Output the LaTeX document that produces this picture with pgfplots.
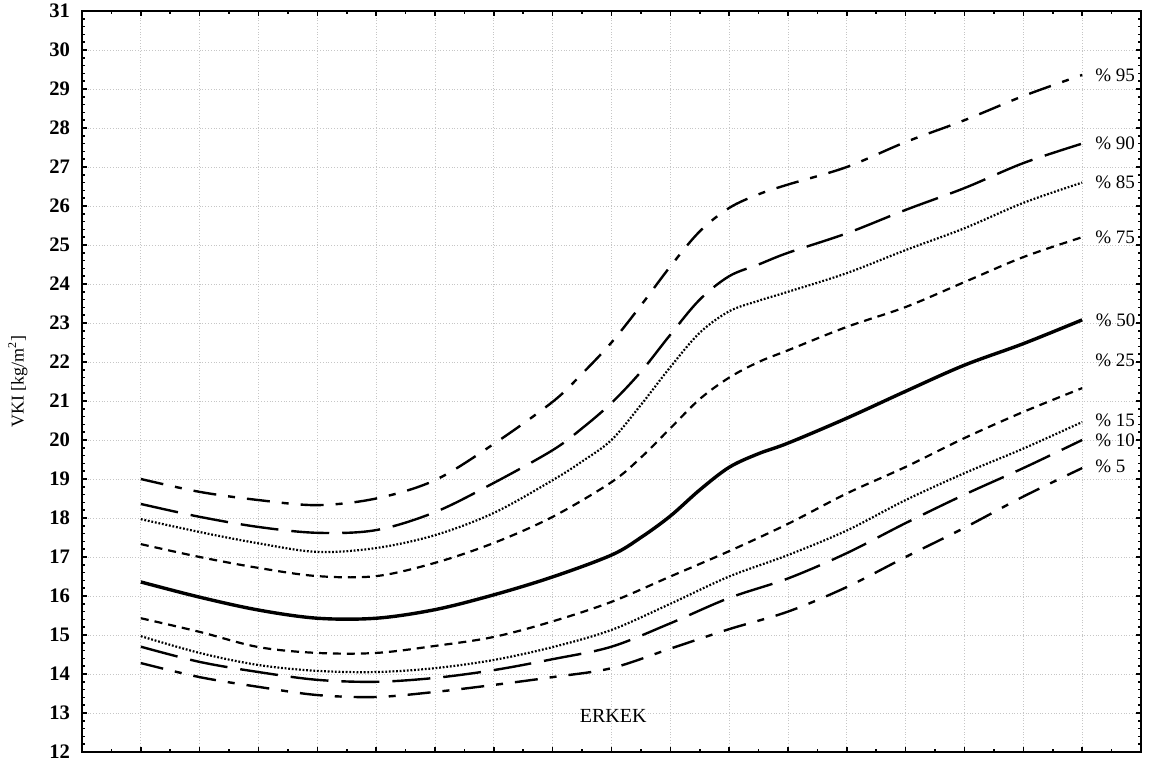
\documentclass[border=0pt]{standalone}
\usepackage{pgfplots}
\pgfplotsset{compat=1.18}
\usepackage{fontspec}
\setmainfont{Liberation Serif}
\tikzset{plabel/.style={font=\fontsize{9.5}{10}\selectfont, anchor=west, inner sep=0pt, xshift=6pt}}
\begin{document}
\begin{tikzpicture}
\begin{axis}[
  scale only axis,
  width=529.5pt, height=370.5pt,
  xmin=0, xmax=18, ymin=12, ymax=31,
  xtick={0,...,18}, ytick={12,...,31},
  minor x tick num=1, minor y tick num=4,
  xticklabels={},
  tick align=inside,
  major tick length=2.5pt, minor tick length=1.5pt,
  every tick/.style={black, line width=0.8pt},
  axis line style={line width=1.3pt},
  grid=major,
  major grid style={gray!45, densely dotted, line width=0.4pt},
  yticklabel style={font=\bfseries\fontsize{10.3}{11}\selectfont, xshift=-2.5pt},
  /pgf/number format/assume math mode=true,
  ylabel={VKI [kg/m\textsuperscript{2}]},
  ylabel style={font=\fontsize{9}{10}\selectfont, yshift=4pt},
  clip=false,
  every axis plot/.style={black, smooth, tension=0.55},
]
% P95
\addplot[line width=1.2pt, dash pattern=on 11.5pt off 6pt on 3.5pt off 6pt] coordinates {
(1,19.0)(2,18.67)(3,18.46)(4,18.33)(5,18.5)(6,18.97)(7,19.9)(8,20.98)(8.5,21.7)(9,22.5)(9.5,23.45)(10,24.45)(10.5,25.35)(11,25.95)(11.5,26.3)(12,26.55)(13,27.0)(14,27.64)(15,28.2)(16,28.82)(17,29.36)}
 node[plabel, pos=1] {\% 95};
% P90
\addplot[line width=1.2pt, dash pattern=on 19pt off 6.5pt] coordinates {
(1,18.36)(2,18.03)(3,17.77)(4,17.62)(5,17.69)(6,18.15)(7,18.9)(8,19.74)(8.5,20.3)(9,20.95)(9.5,21.75)(10,22.7)(10.5,23.6)(11,24.2)(11.5,24.5)(12,24.8)(13,25.3)(14,25.9)(15,26.46)(16,27.1)(17,27.6)}
 node[plabel, pos=1] {\% 90};
% P85
\addplot[line width=1.1pt, dash pattern=on 0.9pt off 0.9pt] coordinates {
(1,17.97)(2,17.64)(3,17.35)(4,17.13)(5,17.23)(6,17.56)(7,18.13)(8,18.97)(8.5,19.45)(9,20.0)(9.5,20.9)(10,21.87)(10.5,22.75)(11,23.3)(11.5,23.57)(12,23.8)(13,24.28)(14,24.87)(15,25.43)(16,26.08)(17,26.6)}
 node[plabel, pos=1] {\% 85};
% P75
\addplot[line width=1.1pt, dash pattern=on 4pt off 3pt] coordinates {
(1,17.33)(2,17.0)(3,16.72)(4,16.51)(5,16.51)(6,16.85)(7,17.36)(8,18.03)(9,18.92)(9.5,19.55)(10,20.3)(10.5,21.05)(11,21.6)(11.5,22.0)(12,22.3)(13,22.9)(14,23.41)(15,24.05)(16,24.69)(17,25.2)}
 node[plabel, pos=1] {\% 75};
% P50
\addplot[line width=1.7pt] coordinates {
(1,16.36)(2,15.97)(3,15.64)(4,15.43)(5,15.43)(6,15.65)(7,16.03)(8,16.49)(9,17.05)(9.5,17.5)(10,18.05)(10.5,18.72)(11,19.3)(11.5,19.65)(12,19.92)(13,20.56)(14,21.25)(15,21.92)(16,22.47)(17,23.08)}
 node[plabel, pos=1] {\% 50};
% P25
\addplot[line width=1.1pt, dash pattern=on 4pt off 3pt] coordinates {
(1,15.43)(2,15.08)(3,14.69)(4,14.54)(5,14.54)(6,14.72)(7,14.95)(8,15.35)(9,15.85)(10,16.5)(11,17.15)(12,17.85)(13,18.63)(14,19.31)(15,20.05)(16,20.72)(17,21.33)}
 node[plabel, pos=1, yshift=14pt] {\% 25};
% P15
\addplot[line width=1.1pt, dash pattern=on 0.9pt off 0.9pt] coordinates {
(1,14.97)(2,14.54)(3,14.23)(4,14.08)(5,14.05)(6,14.15)(7,14.36)(8,14.69)(9,15.13)(10,15.8)(11,16.5)(12,17.05)(13,17.68)(14,18.46)(15,19.15)(16,19.78)(17,20.46)}
 node[plabel, pos=1, yshift=1pt] {\% 15};
% P10
\addplot[line width=1.2pt, dash pattern=on 19pt off 6.5pt] coordinates {
(1,14.7)(2,14.31)(3,14.05)(4,13.85)(5,13.8)(6,13.9)(7,14.1)(8,14.38)(9,14.7)(10,15.3)(11,15.95)(12,16.45)(13,17.1)(14,17.87)(15,18.6)(16,19.28)(17,20.0)}
 node[plabel, pos=1] {\% 10};
% P5
\addplot[line width=1.2pt, dash pattern=on 11.5pt off 6pt on 3.5pt off 6pt] coordinates {
(1,14.28)(2,13.92)(3,13.67)(4,13.46)(5,13.41)(6,13.54)(7,13.72)(8,13.92)(9,14.15)(10,14.65)(11,15.15)(12,15.6)(13,16.23)(14,17.0)(15,17.75)(16,18.55)(17,19.28)}
 node[plabel, pos=1, yshift=1pt] {\% 5};
\node[font=\fontsize{10}{11}\selectfont] at (axis cs:9.03,12.92) {ERKEK};
\end{axis}
\pgfresetboundingbox
\useasboundingbox ([xshift=-41pt,yshift=-7.5pt]current axis.south west) rectangle ([xshift=6pt,yshift=5.5pt]current axis.north east);
\end{tikzpicture}
\end{document}
